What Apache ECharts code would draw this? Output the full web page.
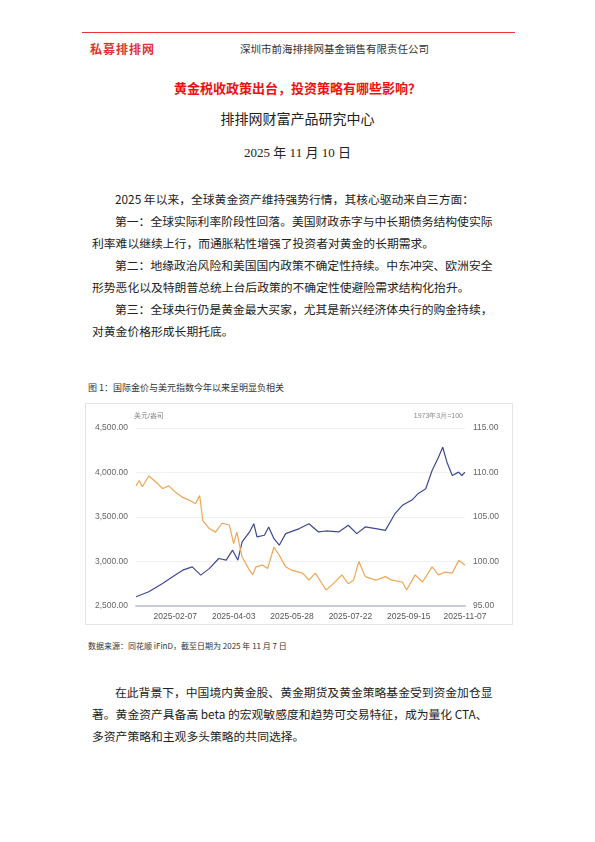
<!DOCTYPE html>
<html lang="zh">
<head>
<meta charset="UTF-8">
<title>黄金税收政策出台</title>
<style>
* { margin: 0; padding: 0; }
html, body { width: 595px; height: 842px; background: #fff; font-family: 'Noto Sans CJK SC', sans-serif; color: #222; }
.abs { position: absolute; white-space: nowrap; }
.line { position: absolute; left: 92px; font-size: 11.8px; white-space: nowrap; }
#chart-panel { position: absolute; left: 85px; top: 403px; width: 428px; height: 222px; border: 1px solid #e4e4e4; box-sizing: border-box; }
</style>
</head>
<body>
<div class="abs" style="left:82px;top:32px;width:433px;height:1px;background:#e33;"></div>
<div class="abs" style="left:90px;top:40px;font-size:12px;font-weight:bold;color:#d33;letter-spacing:1px;">私募排排网</div>
<div class="abs" style="left:240px;top:41px;font-size:10.5px;color:#333;">深圳市前海排排网基金销售有限责任公司</div>
<div class="abs" style="left:0;width:595px;text-align:center;top:78px;font-size:13px;font-weight:bold;color:#e11;">黄金税收政策出台，投资策略有哪些影响？</div>
<div class="abs" style="left:0;width:595px;text-align:center;top:108px;font-size:14px;color:#222;">排排网财富产品研究中心</div>
<div class="abs" style="left:0;width:595px;text-align:center;top:142px;font-size:13px;color:#222;font-family:'Liberation Serif','Noto Sans CJK SC';">2025 年 11 月 10 日</div>

<div class="line" style="top:190px;left:115px;">2025 年以来，全球黄金资产维持强势行情，其核心驱动来自三方面：</div>
<div class="line" style="top:212px;left:115px;">第一：全球实际利率阶段性回落。美国财政赤字与中长期债务结构使实际</div>
<div class="line" style="top:234px;">利率难以继续上行，而通胀粘性增强了投资者对黄金的长期需求。</div>
<div class="line" style="top:256px;left:115px;">第二：地缘政治风险和美国国内政策不确定性持续。中东冲突、欧洲安全</div>
<div class="line" style="top:278px;">形势恶化以及特朗普总统上台后政策的不确定性使避险需求结构化抬升。</div>
<div class="line" style="top:300px;left:115px;">第三：全球央行仍是黄金最大买家，尤其是新兴经济体央行的购金持续，</div>
<div class="line" style="top:322px;">对黄金价格形成长期托底。</div>

<div class="abs" style="left:88px;top:381px;font-size:9px;color:#333;">图 1：国际金价与美元指数今年以来呈明显负相关</div>
<div id="chart-panel"></div>
<div class="abs" style="left:88px;top:640px;font-size:8px;color:#333;">数据来源：同花顺 iFinD，截至日期为 2025 年 11 月 7 日</div>

<div class="line" style="top:683px;left:115px;">在此背景下，中国境内黄金股、黄金期货及黄金策略基金受到资金加仓显</div>
<div class="line" style="top:705px;">著。黄金资产具备高 beta 的宏观敏感度和趋势可交易特征，成为量化 CTA、</div>
<div class="line" style="top:727px;">多资产策略和主观多头策略的共同选择。</div>

<script src="https://cdn.jsdelivr.net/npm/echarts@6/dist/echarts.min.js"></script>
<script>
// 国际金价 美元/盎司
var goldDates = ['2025-01-01','2025-01-13','2025-01-26','2025-02-07','2025-02-14','2025-02-23','2025-03-03','2025-03-11','2025-03-20','2025-03-27','2025-04-02','2025-04-07','2025-04-11','2025-04-18','2025-04-22','2025-04-25','2025-05-02','2025-05-06','2025-05-11','2025-05-16','2025-05-22','2025-06-04','2025-06-13','2025-06-22','2025-06-29','2025-07-11','2025-07-20','2025-07-28','2025-08-05','2025-08-15','2025-08-24','2025-09-02','2025-09-09','2025-09-18','2025-09-24','2025-10-01','2025-10-07','2025-10-13','2025-10-17','2025-10-21','2025-10-26','2025-11-01','2025-11-04','2025-11-07'];
var goldValues = [2604,2660,2754,2847,2903,2940,2847,2920,3034,3015,3127,3015,3220,3332,3425,3276,3295,3388,3257,3183,3313,3370,3425,3332,3343,3332,3407,3313,3388,3370,3350,3537,3631,3690,3765,3817,4022,4172,4284,4116,3966,4004,3966,4004];
// 美元指数 1973年3月=100
var usdDates = ['2025-01-01','2025-01-04','2025-01-07','2025-01-13','2025-01-20','2025-01-26','2025-02-01','2025-02-07','2025-02-14','2025-02-20','2025-02-26','2025-03-02','2025-03-05','2025-03-11','2025-03-17','2025-03-23','2025-03-30','2025-04-03','2025-04-06','2025-04-11','2025-04-18','2025-04-21','2025-04-24','2025-04-30','2025-05-05','2025-05-11','2025-05-16','2025-05-22','2025-05-28','2025-06-07','2025-06-13','2025-06-19','2025-06-29','2025-07-05','2025-07-14','2025-07-20','2025-07-25','2025-07-30','2025-08-05','2025-08-15','2025-08-24','2025-08-30','2025-09-09','2025-09-13','2025-09-21','2025-09-28','2025-10-07','2025-10-13','2025-10-19','2025-10-26','2025-11-01','2025-11-07'];
var usdValues = [108.5,109.1,108.4,109.6,108.9,108.2,108.5,107.8,107.2,106.9,106.5,107.4,104.6,103.7,103.3,104.3,104.1,102.0,103.3,100.5,99.0,98.5,99.4,99.6,99.2,101.6,100.7,99.4,99.0,98.7,97.9,98.7,96.8,97.4,98.5,97.5,97.9,100.0,98.3,97.9,98.3,97.9,97.7,96.8,98.5,97.7,99.4,98.5,98.8,98.7,100.1,99.6];
var xTicks = ['2025-02-07','2025-04-03','2025-05-28','2025-07-22','2025-09-15','2025-11-07'];

function toTime(s) { return +new Date(s + 'T00:00:00Z'); }
function pairs(d, v) { return d.map(function (x, i) { return [toTime(x), v[i]]; }); }
function pad(n) { return n < 10 ? '0' + n : '' + n; }
function fmtDate(v) {
    var d = new Date(v);
    return d.getUTCFullYear() + '-' + pad(d.getUTCMonth() + 1) + '-' + pad(d.getUTCDate());
}

var myChart = echarts.init(document.getElementById('chart-panel'));
var option = {
    animation: false,
    grid: { left: 50, right: 47, top: 24, bottom: 18 },
    xAxis: {
        type: 'value',
        min: toTime('2025-01-01'),
        max: toTime('2025-11-07'),
        axisLine: { lineStyle: { color: '#c5ccd8', width: 2 } },
        axisTick: { show: false },
        splitLine: { show: false },
        axisLabel: {
            color: '#555', fontSize: 8.5, margin: 6,
            customValues: xTicks.map(toTime),
            formatter: function (v) { return fmtDate(v); }
        }
    },
    yAxis: [{
        type: 'value', min: 2500, max: 4500, interval: 500,
        name: '美元/盎司', nameGap: 8,
        nameTextStyle: { color: '#777', fontSize: 7, align: 'left', padding: [0, 0, 0, -2] },
        axisLine: { show: false }, axisTick: { show: false },
        axisLabel: { color: '#666', fontSize: 8.5, formatter: function (v) { return v.toLocaleString('en-US', { minimumFractionDigits: 2 }); } },
        splitLine: { lineStyle: { color: '#eef0f4' } }
    }, {
        type: 'value', min: 95, max: 115, interval: 5,
        name: '1973年3月=100', nameGap: 8,
        nameTextStyle: { color: '#888', fontSize: 7, align: 'right', padding: [0, 2, 0, 0] },
        axisLine: { show: false }, axisTick: { show: false },
        axisLabel: { color: '#666', fontSize: 8.5, formatter: function (v) { return v.toFixed(2); } },
        splitLine: { show: false }
    }],
    series: [{
        type: 'line', yAxisIndex: 0, showSymbol: false,
        lineStyle: { color: '#3d4a92', width: 1.2 },
        data: pairs(goldDates, goldValues)
    }, {
        type: 'line', yAxisIndex: 1, showSymbol: false,
        lineStyle: { color: '#f0a656', width: 1.2 },
        data: pairs(usdDates, usdValues)
    }]
};
myChart.setOption(option);
</script>
</body>
</html>
